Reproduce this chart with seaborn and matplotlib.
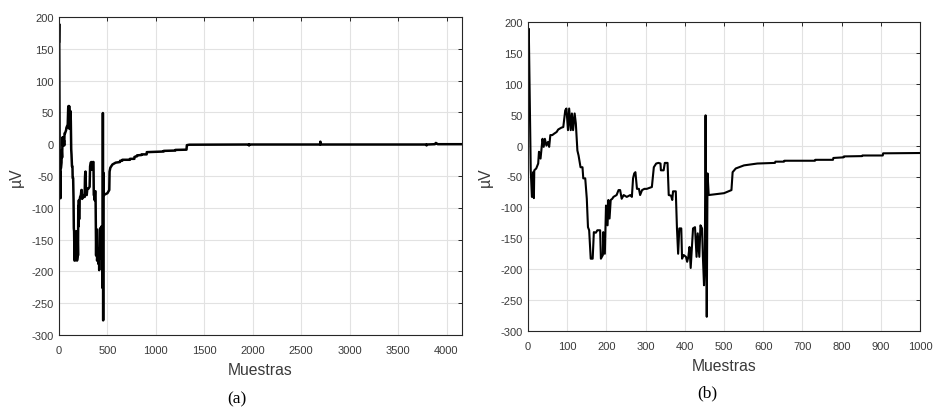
import matplotlib
matplotlib.use("Agg")
import matplotlib.pyplot as plt
import seaborn as sns
import pandas as pd

# Signal vertices (sample index, amplitude in µV)
samples = [0, 2, 7, 10, 13, 15, 16, 21, 26, 28, 32, 34, 37, 40, 43, 47, 51, 54, 57, 62, 66,
           73, 77, 85, 90, 95, 98, 102, 105, 109, 112, 115, 119, 122, 126, 129, 134, 139,
           141, 146, 150, 153, 156, 160, 165, 168, 173, 177, 184, 186, 191, 192, 196, 199,
           203, 205, 208, 211, 215, 218, 226, 231, 235, 239, 244, 252, 261, 265, 268, 271,
           274, 278, 283, 286, 291, 297, 303, 316, 321, 327, 333, 338, 339, 346, 349, 356,
           359, 365, 368, 370, 377, 380, 383, 386, 391, 393, 397, 403, 406, 409, 412, 415,
           417, 421, 426, 430, 433, 437, 440, 444, 446, 449, 451, 453, 456, 458, 461, 500,
           519, 522, 530, 551, 585, 630, 631, 653, 654, 732, 733, 778, 779, 805, 806, 852,
           853, 905, 906, 1000,
           1080, 1081, 1200, 1201, 1316, 1320, 1345, 1960, 1962, 1964, 2695, 2698, 2701,
           3790, 3794, 3796, 3880, 3890, 3900, 3910, 4160]
amplitude = [160, 189, -40, -83, -43, -85, -40, -37, -29, -10, -21, -8, 11, -2, 11, 0, 6, -2, 17,
             17, 19, 22, 26, 29, 30, 57, 60, 25, 60, 25, 52, 25, 52, 36, -8, -16, -35, -35,
             -53, -53, -86, -132, -137, -183, -183, -140, -141, -137, -137, -183, -177,
             -140, -175, -97, -129, -88, -118, -88, -86, -83, -80, -72, -72, -86, -80, -83,
             -80, -83, -53, -45, -43, -70, -70, -80, -72, -70, -70, -67, -35, -29, -28, -29,
             -40, -40, -28, -28, -80, -81, -88, -74, -74, -134, -175, -134, -134, -183,
             -177, -180, -188, -180, -164, -198, -177, -134, -132, -180, -142, -180, -129,
             -134, -177, -226, -191, 49, -277, -45, -80, -77, -72, -43, -37, -32, -29, -28,
             -26, -26, -24.5, -24.5, -23, -23, -20, -19, -17.5, -17, -16, -16, -12.5, -12,
             -11.5, -10.5, -10, -9, -8.6, -1.5, -0.8, -0.5, -2, -0.5, -0.5, 4, -0.5,
             -0.5, -2, -0.5, 0, 2, 1, 0, 0]

x_label = "Muestras"
y_label = "µV"
captions = ["(a)", "(b)"]
y_ticks = list(range(-300, 201, 50))
x_ticks_a = list(range(0, 4001, 500))
x_ticks_b = list(range(0, 1001, 100))
x_max_a = 4160
x_max_b = 1000

df = pd.DataFrame({"n": samples, "uV": amplitude})

sns.set_theme(style="white")
plt.rcParams["font.family"] = ["Liberation Sans", "DejaVu Sans"]
plt.rcParams["axes.unicode_minus"] = False

W, H = 933, 410
fig = plt.figure(figsize=(W / 100, H / 100), dpi=100)
fig.patch.set_facecolor("white")

dark = "#262626"
tick_grey = "#3a3a3a"


def px_axes(left, top, right, bottom):
    return fig.add_axes([left / W, 1 - bottom / H, (right - left) / W, (bottom - top) / H])


def style(ax, xmax, xticks, ylab_x):
    ax.set_xlim(0, xmax)
    ax.set_ylim(-300, 200)
    ax.set_xticks(xticks)
    ax.set_yticks(y_ticks)
    ax.grid(True, color="#e2e2e2", linewidth=0.8)
    ax.set_axisbelow(True)
    for s in ax.spines.values():
        s.set_visible(True)
        s.set_color(dark)
        s.set_linewidth(0.8)
    ax.tick_params(direction="in", length=3, width=0.7, colors=dark, labelcolor=tick_grey,
                   labelsize=8, top=True, right=True)
    ax.tick_params(axis="x", pad=7)
    ax.tick_params(axis="y", pad=4)
    ax.set_xlabel(x_label, fontsize=11.3, color=tick_grey, labelpad=5)
    ax.set_ylabel(y_label, fontsize=11.3, color=tick_grey)
    ax.yaxis.set_label_coords(ylab_x, 0.5)
    ax.set_facecolor("white")


ax_a = px_axes(59, 18, 462, 336)
sns.lineplot(data=df, x="n", y="uV", ax=ax_a, color="black", linewidth=1.8,
             sort=False, estimator=None)
style(ax_a, x_max_a, x_ticks_a, -0.087)

ax_b = px_axes(528, 23, 920, 332)
df_b = df[df["n"] <= x_max_b]
sns.lineplot(data=df_b, x="n", y="uV", ax=ax_b, color="black", linewidth=1.5,
             sort=False, estimator=None)
style(ax_b, x_max_b, x_ticks_b, -0.089)

fig.text(237 / W, 1 - 399 / H, captions[0], ha="center", va="center",
         fontsize=12.5, family="Liberation Serif", color="black")
fig.text(707 / W, 1 - 393 / H, captions[1], ha="center", va="center",
         fontsize=12.5, family="Liberation Serif", color="black")

fig.savefig("out.png", dpi=100, facecolor="white")
